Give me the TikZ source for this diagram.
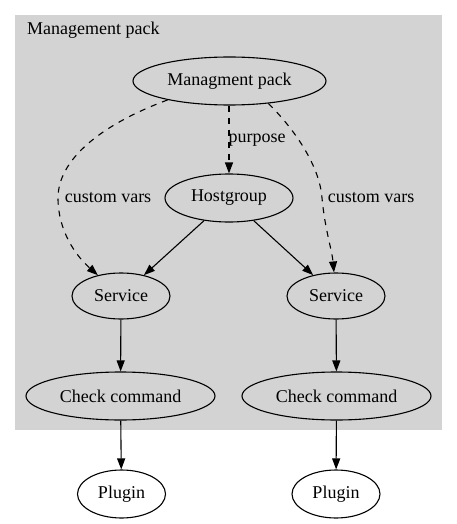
\documentclass[tikz,border=0pt]{standalone}
\usepackage{fontspec}
\setmainfont{Liberation Serif}
\newfontfamily\tnr{Liberation Serif}
\usetikzlibrary{shapes.geometric,arrows.meta}
\definecolor{clustergray}{HTML}{D3D3D3}
\begin{document}
\begin{tikzpicture}[x=1pt,y=-1pt,
  every node/.style={font=\tnr\fontsize{18}{21}\selectfont},
  gnode/.style={ellipse,draw,line width=1.1pt,inner sep=0pt},
  edge/.style={line width=1.1pt,-{Triangle[length=11pt,width=8pt]}},
  dashededge/.style={edge,dash pattern=on 6pt off 6pt},
  lbl/.style={inner sep=0pt}]
\useasboundingbox (0,0) rectangle (457,524);
\fill[clustergray] (15,15) rectangle (442,430);
\node[lbl,anchor=west] (cl) at (27,30) {Management pack};
\node[gnode,minimum width=193pt,minimum height=48pt] (mp) at (229.5,81) {Managment pack};
\node[gnode,minimum width=128pt,minimum height=48pt] (hg) at (229,198) {Hostgroup};
\node[gnode,minimum width=98pt,minimum height=46pt] (svl) at (121,296) {Service};
\node[gnode,minimum width=98pt,minimum height=46pt] (svr) at (336,296) {Service};
\node[gnode,minimum width=189pt,minimum height=48pt] (ccl) at (120.5,396) {Check command};
\node[gnode,minimum width=189pt,minimum height=48pt] (ccr) at (336.5,396) {Check command};
\node[gnode,fill=white,minimum width=88pt,minimum height=48pt] (pl) at (121.5,494) {Plugin};
\node[gnode,fill=white,minimum width=88pt,minimum height=48pt] (pr) at (336,494) {Plugin};
\coordinate (lmid) at (58,198);
\coordinate (rmid) at (322,198);
\draw[dashededge] (mp.197) .. controls (100,125) and (58,160) .. (lmid) .. controls (58,230) and (75,255) .. (svl.138);
\draw[dashededge] (mp.330) .. controls (300,135) and (320,170) .. (rmid) .. controls (325,230) and (332,250) .. (svr.95);
\draw[dashededge] (mp.south -| hg.north) -- (hg.north);
\node[lbl] (l1) at (108,198) {custom vars};
\node[lbl] (l2) at (371,198) {custom vars};
\node[lbl] (l3) at (257,140) {purpose};
\draw[edge] (hg) -- (svl);
\draw[edge] (hg) -- (svr);
\draw[edge] (svl) -- (ccl);
\draw[edge] (svr) -- (ccr);
\draw[edge] (ccl) -- (pl);
\draw[edge] (ccr) -- (pr);
\end{tikzpicture}
\end{document}
